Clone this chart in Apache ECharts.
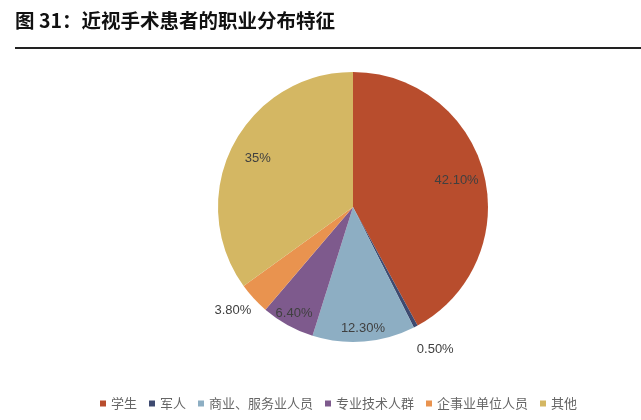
<!DOCTYPE html>
<html><head><meta charset="utf-8">
<script src="https://cdn.jsdelivr.net/npm/echarts@6/dist/echarts.min.js"></script>
<style>html,body{margin:0;padding:0;background:#fff}#c{width:641px;height:420px}</style>
</head><body><div id="c"></div>
<script>
const categories = ['学生','军人','商业、服务业人员','专业技术人群','企事业单位人员','其他'];
const values = [42.1, 0.5, 12.3, 6.4, 3.8, 35];
const labelTexts = ['42.10%','0.50%','12.30%','6.40%','3.80%','35%'];
const colors = ['#B84D2D','#3E4A70','#8DAEC3','#7E5A8D','#E9934F','#D4B763'];
const upperInside = [0, 5];
const lowerInside = [2, 3];
const outsideIdx = [1, 4];

const chart = echarts.init(document.getElementById('c'));
const CX = 353, CY = 207, R = 135;
const labelFont = {fontFamily:'Liberation Sans, Arial, sans-serif', fontSize:13, color:'#404040'};

function overlay(r0, idxs, withOutside){
  return {
    type:'pie', center:[CX,CY], radius:[r0,R], startAngle:90, clockwise:true,
    silent:true, legendHoverLink:false,
    itemStyle:{color:'rgba(0,0,0,0)', borderWidth:0},
    emphasis:{disabled:true},
    data:categories.map((n,i)=>{
      const out = withOutside && outsideIdx.includes(i);
      const inside = idxs.includes(i);
      let label = {show:false};
      if (inside) label = Object.assign({show:true, position:'inside', formatter:labelTexts[i]}, labelFont);
      if (out) label = Object.assign({show:true, position:'outside', formatter:labelTexts[i]}, labelFont);
      return {
        name:n, value:values[i],
        itemStyle:{color:'rgba(0,0,0,0)'},
        label,
        labelLine: out ? {show:false, length: i===1?26:17, length2: i===1?-16:-15} : {show:false}
      };
    })
  };
}

chart.setOption({
  animation:false,
  graphic:[
    {type:'text', left:15, top:11, style:{text:'图 31：近视手术患者的职业分布特征', font:'bold 19.5px "Noto Sans CJK SC"', fill:'#111'}},
    {type:'rect', shape:{x:15, y:47, width:626, height:2}, style:{fill:'#222'}}
  ],
  legend:{
    data:categories, left:95, top:392, itemWidth:6, itemHeight:6, itemGap:12,
    icon:'rect',
    textStyle:{fontFamily:'Noto Sans CJK SC', fontSize:13, color:'#666'}
  },
  series:[
    {
      type:'pie', center:[CX,CY], radius:[0,R], startAngle:90, clockwise:true,
      silent:true,
      itemStyle:{borderWidth:0},
      label:{show:false}, labelLine:{show:false},
      data:categories.map((n,i)=>({name:n, value:values[i], itemStyle:{color:colors[i]}}))
    },
    overlay(R*0.54, upperInside, true),
    overlay(R*0.76, lowerInside, false)
  ]
});
</script></body></html>
